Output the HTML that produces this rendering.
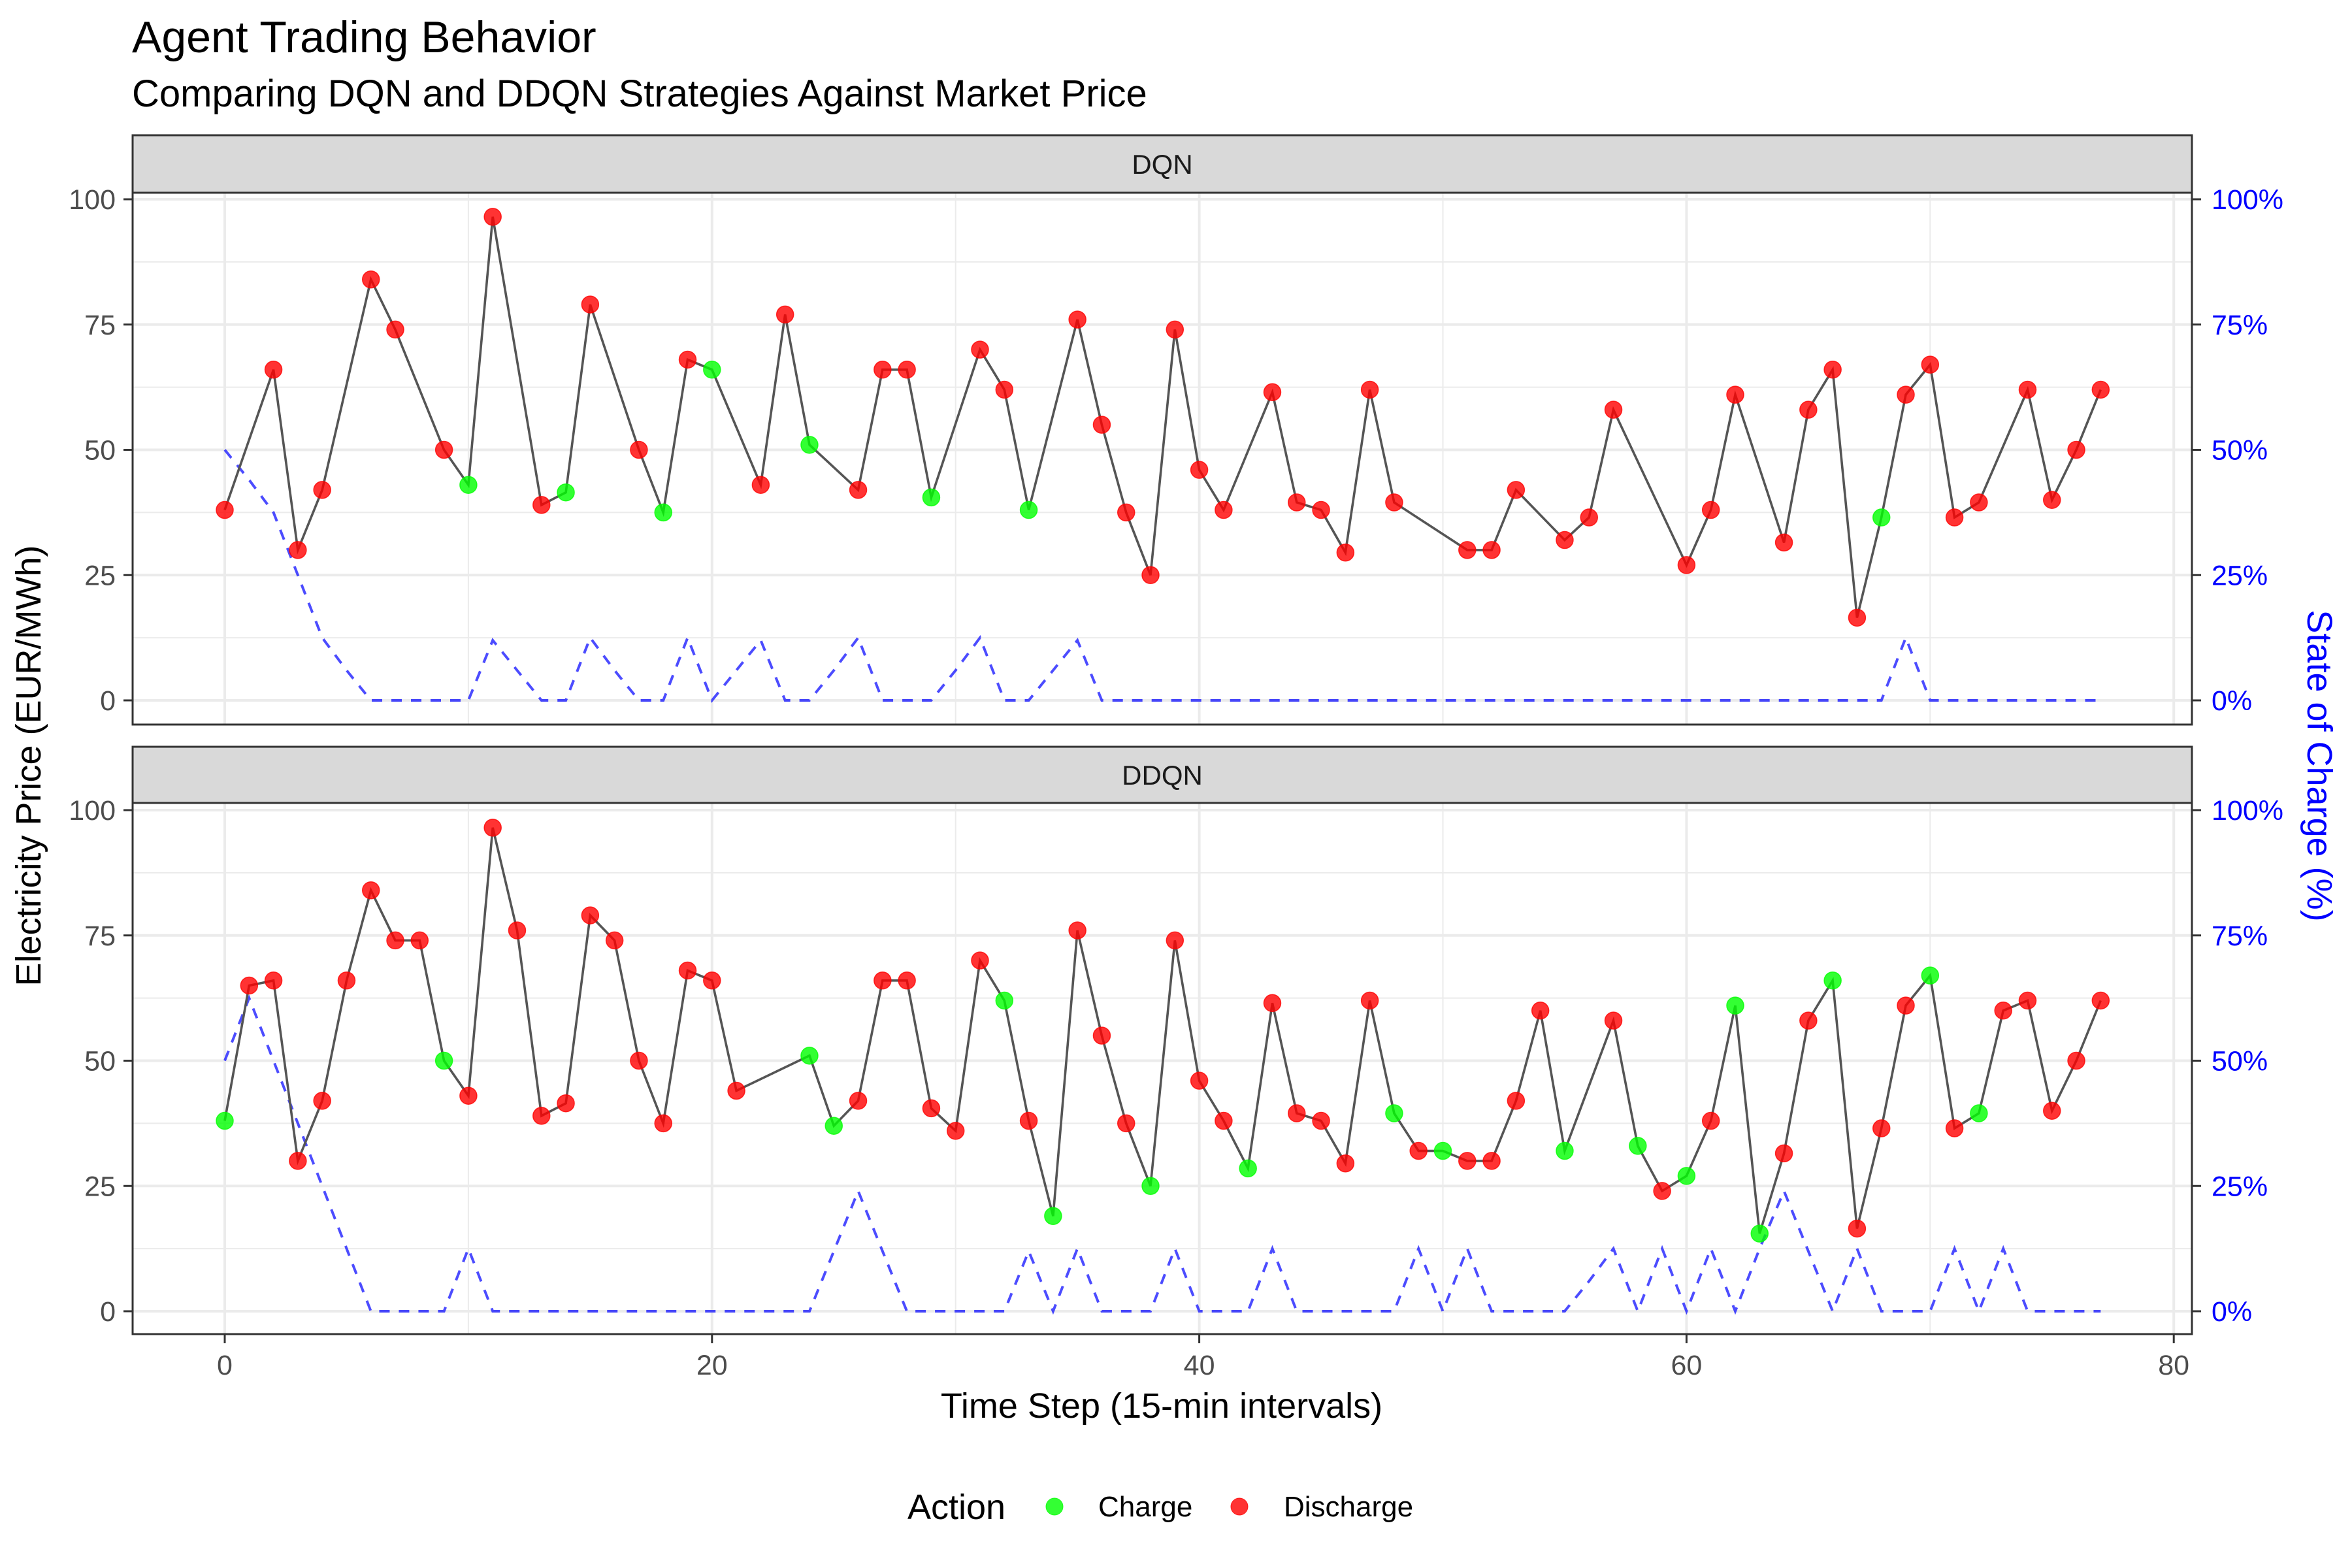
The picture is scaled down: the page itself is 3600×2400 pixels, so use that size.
<!DOCTYPE html>
<html><head><meta charset="utf-8">
<style>
html,body{margin:0;padding:0;background:#fff;}
svg{display:block;font-family:"Liberation Sans",Arial,sans-serif;}
</style></head>
<body>
<svg id="chart" width="3600" height="2400" viewBox="0 0 3600 2400" xmlns="http://www.w3.org/2000/svg">
<rect x="0" y="0" width="3600" height="2400" fill="#fff"/>
<text x="202" y="80" font-size="68" fill="#000">Agent Trading Behavior</text>
<text x="202" y="163" font-size="58" fill="#000">Comparing DQN and DDQN Strategies Against Market Price</text>
<g id="panels"></g>
<text x="1778" y="2170" font-size="54" text-anchor="middle" fill="#000">Time Step (15-min intervals)</text>
<text transform="translate(62,1172) rotate(-90)" font-size="54" text-anchor="middle" fill="#000">Electricity Price (EUR/MWh)</text>
<text transform="translate(3532,1172) rotate(90)" font-size="54" text-anchor="middle" fill="#0000FF">State of Charge (%)</text>
<g>
<text x="1389" y="2325" font-size="54" fill="#000">Action</text>
<circle cx="1614" cy="2306" r="13" fill="#00FF00" fill-opacity="0.8" stroke="#00FF00" stroke-opacity="0.8"/>
<text x="1681" y="2321" font-size="44" fill="#000">Charge</text>
<circle cx="1897" cy="2306" r="13" fill="#FF0000" fill-opacity="0.8" stroke="#FF0000" stroke-opacity="0.8"/>
<text x="1965" y="2321" font-size="44" fill="#000">Discharge</text>
</g>
</svg>
<script>
const steps = Array.from({length:78},(_, i)=>i);
const prices = [38,65,66,30,42,66,84,74,74,50,43,96.5,76,39,41.5,79,74,50,37.5,68,66,44,43,77,51,37,42,66,66,40.5,36,70,62,38,19,76,55,37.5,25,74,46,38,28.5,61.5,39.5,38,29.5,62,39.5,32,32,30,30,42,60,32,36.5,58,33,24,27,38,61,15.5,31.5,58,66,16.5,36.5,61,67,36.5,39.5,60,62,40,50,62];
const dqnActions  = "DHDDDHDDHD"+"CDHDCDHDCD"+"CHDDCHDDDC"+"HDDCHDDDDD"+"DDHDDDDDDH"+"HDDDHDDDHH"+"DDDHDDDDCD"+"DDDHDDDD";
const ddqnActions = "CDDDDDDDDC"+"DDDDDDDDDD"+"DDHHCCDDDD"+"DDCDCDDDCD"+"DDCDDDDDCD"+"CDDDDCHDCD"+"CDCCDDCDDD"+"CDCDDDDD";
const dqnSoc  = [50,44,37.5,25,12.5,6,0,0,0,0, 0,12,6,0,0,12.5,6,0,0,12.5, 0,6,12,0,0,6,12.5,0,0,0, 6,12.5,0,0,6,12,0,0,0,0, 0,0,0,0,0,0,0,0,0,0, 0,0,0,0,0,0,0,0,0,0, 0,0,0,0,0,0,0,0,0,12.5, 0,0,0,0,0,0,0,0];
const ddqnSoc = [50,62.5,50,37.5,25,12.5,0,0,0,0, 12.5,0,0,0,0,0,0,0,0,0, 0,0,0,0,0,12,24,12,0,0, 0,0,0,12,0,12.5,0,0,0,12.5, 0,0,0,12.5,0,0,0,0,0,12.5, 0,12.5,0,0,0,0,6,12.5,0,12.5, 0,12.5,0,12.5,24,12,0,12.5,0,0, 0,12.5,0,12.5,0,0,0,0];
const xTicks = [0,20,40,60,80];
const xMinor = [10,30,50,70];
const yTicks = [0,25,50,75,100];
const yMinor = [12.5,37.5,62.5,87.5];
const socTickLabels = ["0%","25%","50%","75%","100%"];

const NS="http://www.w3.org/2000/svg";
const root=document.getElementById('panels');
const X0=203, X1=3355;
function xs(t){return 344 + t*37.29;}
function mk(tag,attrs,parent){const e=document.createElementNS(NS,tag);for(const k in attrs)e.setAttribute(k,attrs[k]);(parent||root).appendChild(e);return e;}

const panels=[
 {name:'dqn',label:'DQN',stripTop:207,top:295,bottom:1109,y0:1072,actions:dqnActions,soc:dqnSoc},
 {name:'ddqn',label:'DDQN',stripTop:1143,top:1229,bottom:2042,y0:2007,actions:ddqnActions,soc:ddqnSoc}
];
panels.forEach(p=>{
  const ys=v=>p.y0 - v*7.67;
  const g=mk('g',{});
  
  
  mk('rect',{x:X0,y:p.top,width:X1-X0,height:p.bottom-p.top,fill:'#fff'},g);
  yMinor.forEach(v=>mk('line',{x1:X0,x2:X1,y1:ys(v),y2:ys(v),stroke:'#EBEBEB','stroke-width':2},g));
  xMinor.forEach(v=>mk('line',{x1:xs(v),x2:xs(v),y1:p.top,y2:p.bottom,stroke:'#EBEBEB','stroke-width':2},g));
  yTicks.forEach(v=>mk('line',{x1:X0,x2:X1,y1:ys(v),y2:ys(v),stroke:'#EBEBEB','stroke-width':4},g));
  xTicks.forEach(v=>mk('line',{x1:xs(v),x2:xs(v),y1:p.top,y2:p.bottom,stroke:'#EBEBEB','stroke-width':4},g));
  const sp=p.soc.map((v,i)=>(i?'L':'M')+xs(steps[i]).toFixed(1)+','+ys(v).toFixed(1)).join(' ');
  const socPath=mk('path',{d:sp,fill:'none',stroke:'#0000FF','stroke-opacity':0.7,'stroke-width':4,'stroke-dasharray':'16 14'},g);
  
  
  const idx=steps.filter(i=>p.actions[i]!=='H');
  const pp=idx.map((i,k)=>(k?'L':'M')+xs(i).toFixed(1)+','+ys(prices[i]).toFixed(1)).join(' ');
  const priceLine=mk('path',{d:pp,fill:'none',stroke:'#555','stroke-width':3.6},g);
  
  
  idx.forEach(i=>{
    const col=p.actions[i]==='C'?'#00FF00':'#FF0000';
    const c=mk('circle',{cx:xs(i),cy:ys(prices[i]),r:13,fill:col,'fill-opacity':0.8,stroke:col,'stroke-opacity':0.8,'stroke-width':1.5},g);
    
    
  });
  mk('rect',{x:X0,y:p.top,width:X1-X0,height:p.bottom-p.top,fill:'none',stroke:'#333','stroke-width':3},g);
  const s=mk('rect',{x:X0,y:p.stripTop,width:X1-X0,height:p.top-p.stripTop,fill:'#D9D9D9',stroke:'#333','stroke-width':3},g);
  
  
  const st=mk('text',{x:(X0+X1)/2,y:(p.stripTop+p.top)/2+15,'font-size':42,'text-anchor':'middle',fill:'#1A1A1A'},g);
  st.textContent=p.label;
  
  
  yTicks.forEach((v,k)=>{
    mk('line',{x1:X0-14,x2:X0,y1:ys(v),y2:ys(v),stroke:'#333','stroke-width':3},g);
    const t=mk('text',{x:X0-26,y:ys(v)+15,'font-size':43,'text-anchor':'end',fill:'#4D4D4D'},g);
    t.textContent=String(v);
    
    
    mk('line',{x1:X1,x2:X1+14,y1:ys(v),y2:ys(v),stroke:'#333','stroke-width':3},g);
    const r=mk('text',{x:X1+30,y:ys(v)+15,'font-size':43,fill:'#0000FF'},g);
    r.textContent=socTickLabels[k];
    
    
  });
  if(p.name==='ddqn'){
    xTicks.forEach(v=>{
      mk('line',{x1:xs(v),x2:xs(v),y1:p.bottom,y2:p.bottom+14,stroke:'#333','stroke-width':3},g);
      const t=mk('text',{x:xs(v),y:p.bottom+62,'font-size':43,'text-anchor':'middle',fill:'#4D4D4D'},g);
      t.textContent=String(v);
      
      
    });
  }
});
</script>
</body></html>
